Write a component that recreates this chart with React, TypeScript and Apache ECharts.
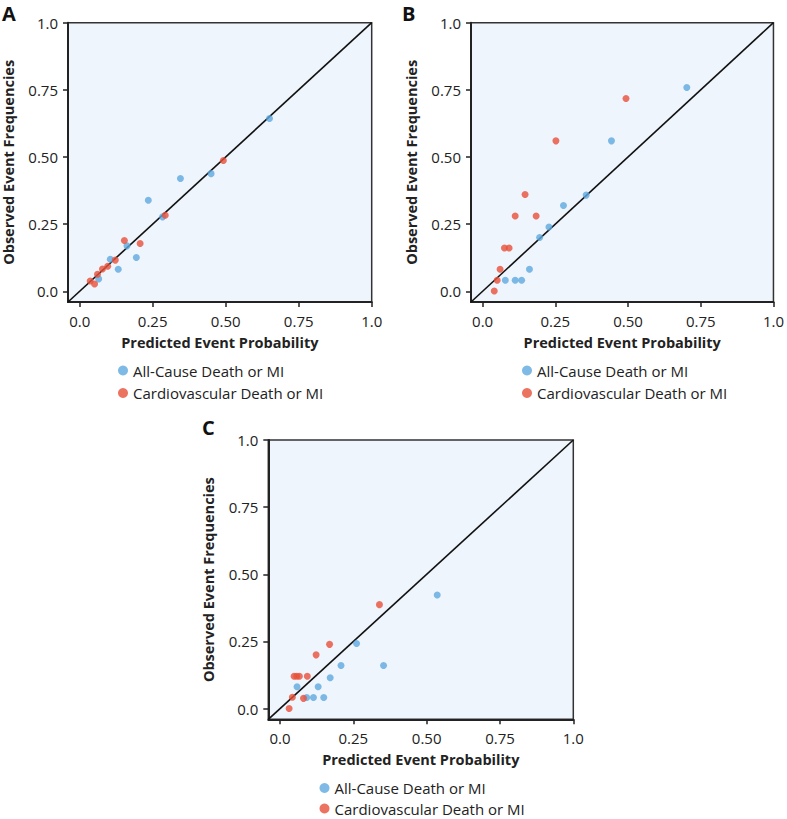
import React, { useEffect, useRef } from "react";
import * as echarts from "echarts";

const NAME_ALL = "All-Cause Death or MI";
const NAME_CV = "Cardiovascular Death or MI";

const tickValues = [0, 0.25, 0.5, 0.75, 1.0];
const xTickLabels = ["0.0", "0.25", "0.50", "0.75", "1.0"];
const yTickLabels = ["0.0", "0.25", "0.50", "0.75", "1.0"];
const axisMin = -0.04;
const axisMax = 1.0;

// Panel A
const allA: number[][] = [
  [0.65, 0.643], [0.45, 0.438], [0.345, 0.42], [0.235, 0.339], [0.284, 0.277],
  [0.162, 0.169], [0.194, 0.126], [0.105, 0.119], [0.132, 0.082], [0.065, 0.046],
];
const cvA: number[][] = [
  [0.492, 0.487], [0.293, 0.283], [0.153, 0.189], [0.207, 0.178], [0.122, 0.116],
  [0.096, 0.093], [0.078, 0.083], [0.061, 0.063], [0.036, 0.038], [0.051, 0.027],
];
// Panel B
const allB: number[][] = [
  [0.702, 0.759], [0.443, 0.56], [0.356, 0.358], [0.278, 0.319], [0.228, 0.239],
  [0.196, 0.2], [0.161, 0.082], [0.134, 0.041], [0.112, 0.041], [0.078, 0.041],
];
const cvB: number[][] = [
  [0.493, 0.718], [0.252, 0.56], [0.146, 0.36], [0.112, 0.28], [0.184, 0.28],
  [0.075, 0.161], [0.091, 0.161], [0.06, 0.082], [0.05, 0.041], [0.04, 0.001],
];
// Panel C
const allC: number[][] = [
  [0.536, 0.423], [0.261, 0.242], [0.208, 0.16], [0.353, 0.16], [0.171, 0.115],
  [0.13, 0.081], [0.058, 0.081], [0.091, 0.041], [0.114, 0.041], [0.149, 0.041],
];
const cvC: number[][] = [
  [0.339, 0.387], [0.169, 0.239], [0.123, 0.2], [0.048, 0.12], [0.057, 0.12],
  [0.066, 0.12], [0.093, 0.12], [0.042, 0.042], [0.08, 0.038], [0.031, 0.0],
];

const diagonal: number[][] = [[axisMin, axisMin], [axisMax, axisMax]];

const BLUE = "#5ea9de";
const RED = "#e8503a";
const FONT = "Open Sans";

const panels = [
  { label: "A", left: 66.7, top: 22.7, all: allA, cv: cvA, lx: 113, ly1: 358, ly2: 380.5, px: 2, py: 3 },
  { label: "B", left: 471, top: 22.7, all: allB, cv: cvB, lx: 517, ly1: 358, ly2: 380.5, px: 402, py: 3 },
  { label: "C", left: 268.3, top: 440, all: allC, cv: cvC, lx: 314.5, ly1: 775.5, ly2: 796, px: 202, py: 417 },
];
const GW = 305;
const GH = 279.3;

export default function App() {
  const ref = useRef<HTMLDivElement>(null);
  useEffect(() => {
    if (!ref.current) return;
    const chart = echarts.init(ref.current, null, { renderer: "svg" });
    const grid: any[] = [];
    const xAxis: any[] = [];
    const yAxis: any[] = [];
    const series: any[] = [];
    const legend: any[] = [];
    const graphic: any[] = [];
    panels.forEach((p, i) => {
      grid.push({
        left: p.left, top: p.top, width: GW, height: GH,
        show: true, backgroundColor: "#eff5fc", borderColor: "#333", borderWidth: 1.5,
      });
      const common = {
        gridIndex: i, type: "value", min: axisMin, max: axisMax,
        splitLine: { show: false },
        axisLine: { show: true, onZero: false, lineStyle: { color: "#222", width: 2 } },
        axisTick: { show: true, length: 5, customValues: tickValues, lineStyle: { color: "#222", width: 1.5 } },
        nameLocation: "middle",
        nameTextStyle: { fontFamily: FONT, fontWeight: "bold", fontSize: 14.5, color: "#222" },
      };
      xAxis.push({
        ...common,
        name: "Predicted Event Probability",
        nameGap: 33,
        axisLabel: {
          customValues: tickValues, margin: 11, fontFamily: FONT, fontSize: 15, color: "#222",
          formatter: (v: number) => xTickLabels[tickValues.indexOf(v)] ?? "",
        },
      });
      yAxis.push({
        ...common,
        name: "Observed Event Frequencies",
        nameGap: 52,
        axisLabel: {
          customValues: tickValues, margin: 10, fontFamily: FONT, fontSize: 15, color: "#222",
          formatter: (v: number) => yTickLabels[tickValues.indexOf(v)] ?? "",
        },
      });
      series.push({
        type: "line", xAxisIndex: i, yAxisIndex: i, data: diagonal, symbol: "none",
        lineStyle: { color: "#111", width: 1.6 }, silent: true, z: 1,
      });
      series.push({
        type: "scatter", name: NAME_ALL, xAxisIndex: i, yAxisIndex: i, data: p.all,
        symbolSize: 7, itemStyle: { color: BLUE }, z: 3,
      });
      series.push({
        type: "scatter", name: NAME_CV, xAxisIndex: i, yAxisIndex: i, data: p.cv,
        symbolSize: 7, itemStyle: { color: RED }, z: 4,
      });
      const legendBase = {
        left: p.lx, orient: "vertical", itemWidth: 10, itemHeight: 10,
        icon: "circle", selectedMode: false,
        textStyle: { fontFamily: FONT, fontSize: 15, color: "#222" },
      };
      legend.push({ ...legendBase, top: p.ly1, data: [NAME_ALL] });
      legend.push({ ...legendBase, top: p.ly2, data: [NAME_CV] });
      graphic.push({
        type: "text", left: p.px, top: p.py,
        style: { text: p.label, fontFamily: FONT, fontWeight: "bold", fontSize: 20, fill: "#111" },
      });
    });
    chart.setOption({
      animation: false,
      grid, xAxis, yAxis, series, legend, graphic,
    });
    return () => chart.dispose();
  }, []);
  return (
    <div
      ref={ref}
      style={{ position: "absolute", left: 0, top: 0, width: 787, height: 819, background: "#fff" }}
    />
  );
}
